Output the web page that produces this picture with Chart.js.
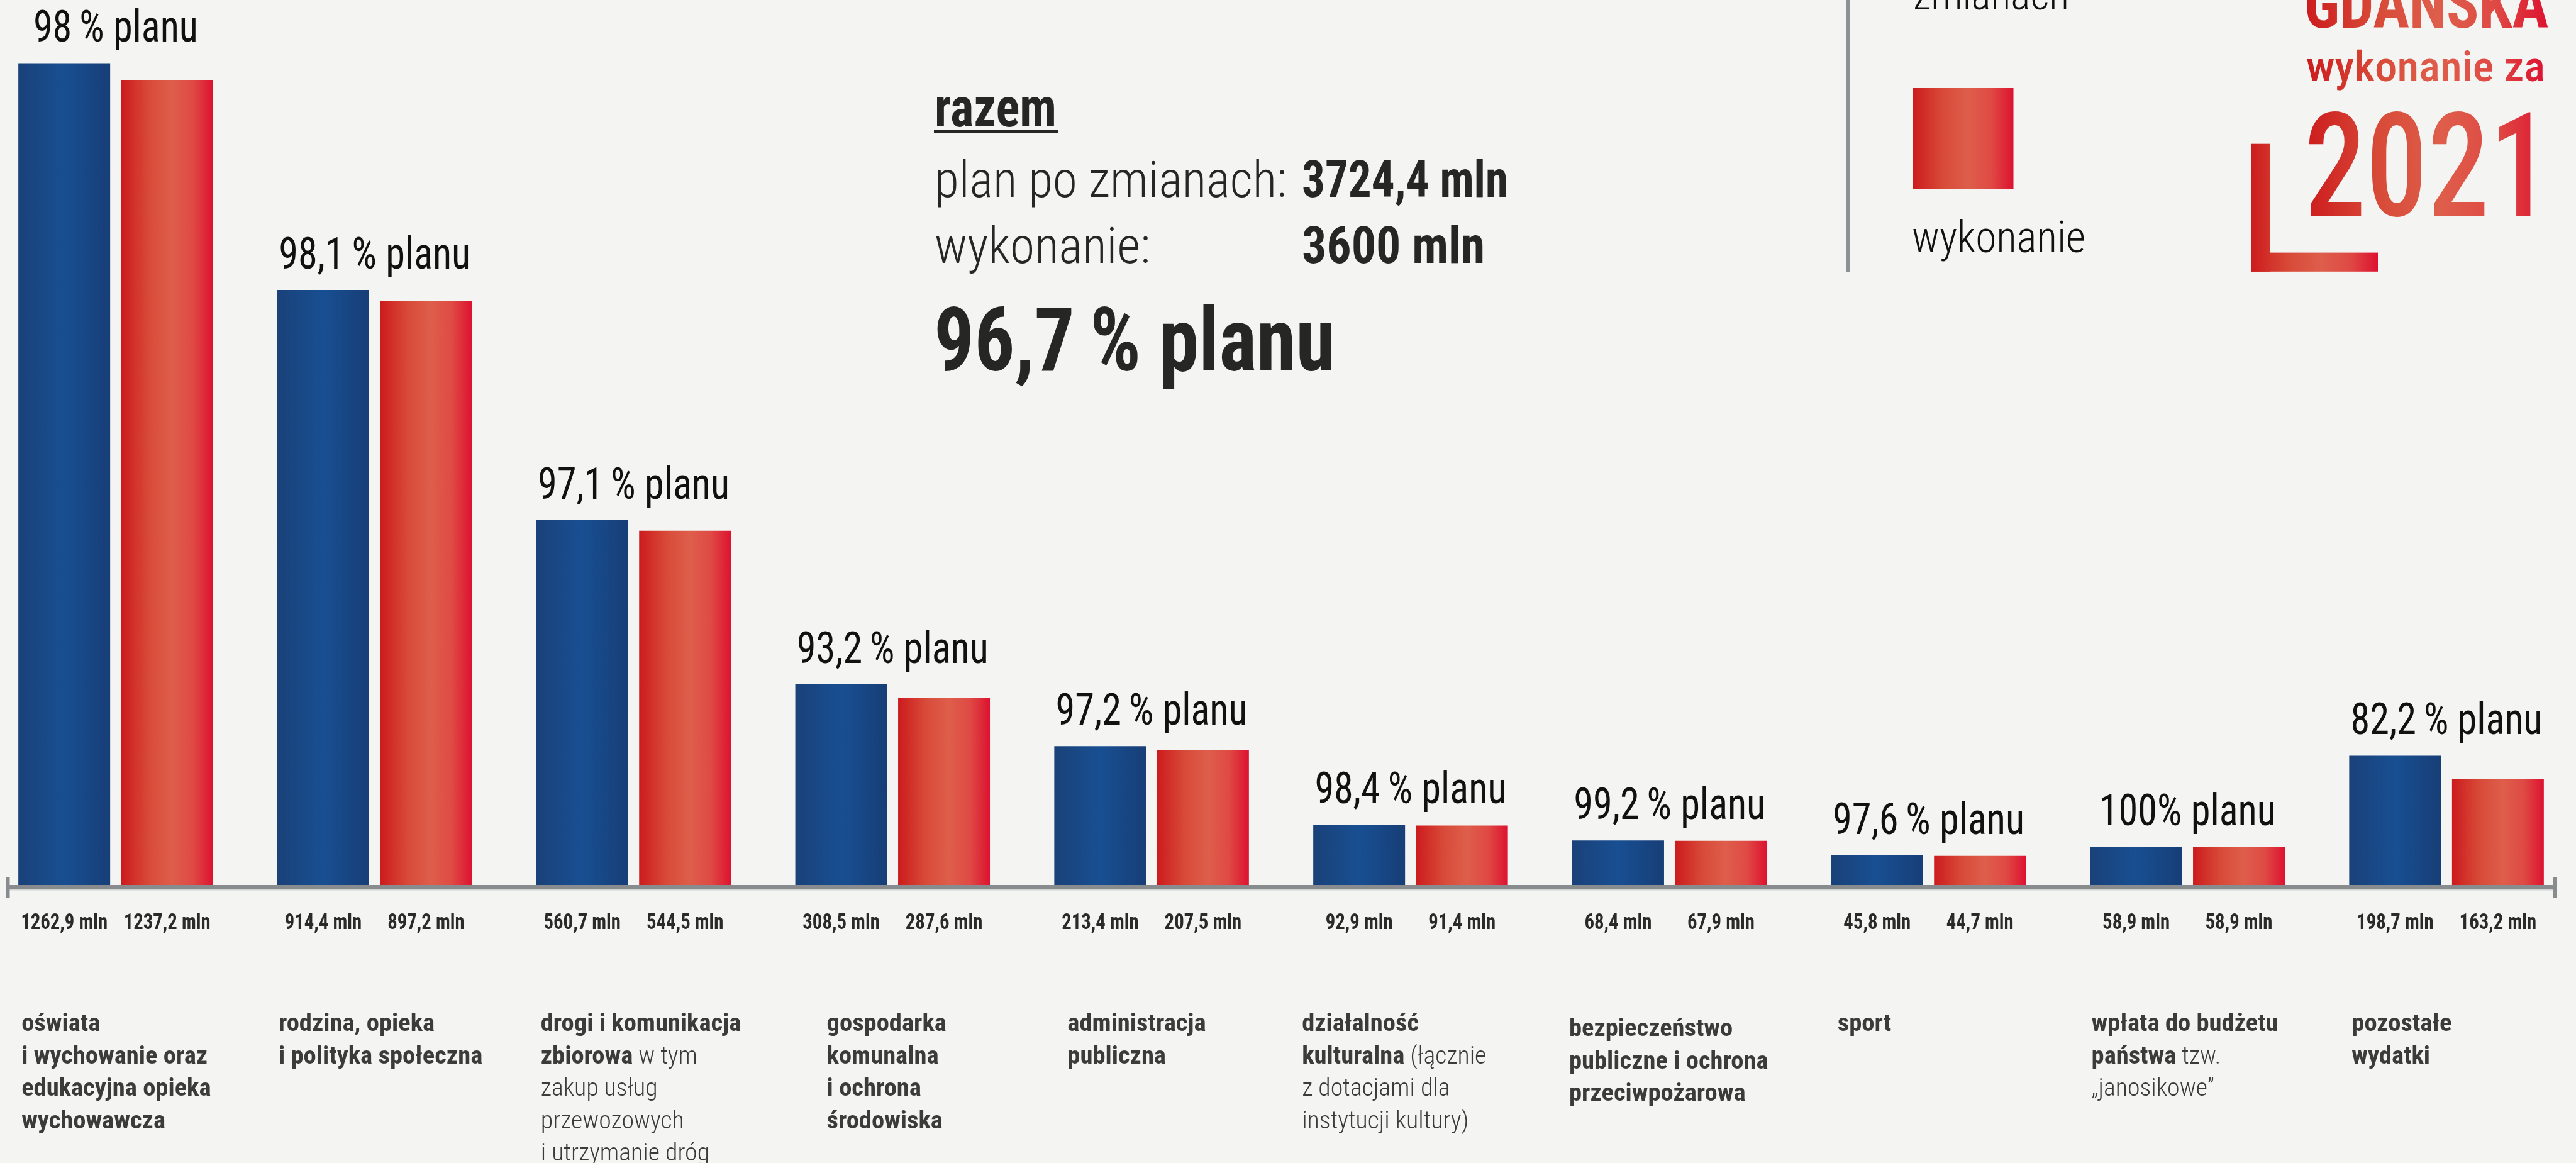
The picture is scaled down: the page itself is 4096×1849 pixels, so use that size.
<!DOCTYPE html>
<html><head><meta charset="utf-8">
<script src="https://cdn.jsdelivr.net/npm/chart.js@4.4.1/dist/chart.umd.min.js"></script>
<style>
html,body{margin:0;padding:0;width:4096px;height:1849px;overflow:hidden;background:#f4f4f2;}
#wrap{position:relative;width:4096px;height:1849px;overflow:hidden;}
#c{position:absolute;left:-22px;top:0;width:4118px;height:1849px;}
</style></head><body><div id="wrap"><canvas id="c" width="4118" height="1849"></canvas></div>
<script>
// ---------- DATA ----------
const categories = [
  "oświata i wychowanie oraz edukacyjna opieka wychowawcza",
  "rodzina, opieka i polityka społeczna",
  "drogi i komunikacja zbiorowa",
  "gospodarka komunalna i ochrona środowiska",
  "administracja publiczna",
  "działalność kulturalna",
  "bezpieczeństwo publiczne i ochrona przeciwpożarowa",
  "sport",
  "wpłata do budżetu państwa",
  "pozostałe wydatki"
];
const seriesNames = ["plan po zmianach", "wykonanie"];
const planValues = [1262.9, 914.4, 560.7, 308.5, 213.4, 92.9, 68.4, 45.8, 58.9, 198.7];
const execValues = [1237.2, 897.2, 544.5, 287.6, 207.5, 91.4, 67.9, 44.7, 58.9, 163.2];
const pctLabels = ["98\u2009% planu", "98,1\u2009% planu", "97,1\u2009% planu", "93,2\u2009% planu", "97,2\u2009% planu",
                   "98,4\u2009% planu", "99,2\u2009% planu", "97,6\u2009% planu", "100% planu", "82,2\u2009% planu"];
// label lines: [bold part, regular part]
const categoryLines = [
  [["oświata",""],["i wychowanie oraz",""],["edukacyjna opieka",""],["wychowawcza",""]],
  [["rodzina, opieka",""],["i polityka społeczna",""]],
  [["drogi i komunikacja",""],["zbiorowa"," w tym"],["","zakup usług"],["","przewozowych"],["","i utrzymanie dróg"]],
  [["gospodarka",""],["komunalna",""],["i ochrona",""],["środowiska",""]],
  [["administracja",""],["publiczna",""]],
  [["działalność",""],["kulturalna"," (łącznie"],["","z dotacjami dla"],["","instytucji kultury)"]],
  [["bezpieczeństwo",""],["publiczne i ochrona",""],["przeciwpożarowa",""]],
  [["sport",""]],
  [["wpłata do budżetu",""],["państwa"," tzw."],["","„janosikowe”"]],
  [["pozostałe",""],["wydatki",""]]
];
const totalHeading = "razem";
const totalPlanText = "3724,4 mln";
const totalExecText = "3600 mln";
const totalPctText = "96,7\u2009% planu";
const titleLines = ["GDAŃSKA", "wykonanie za", "2021"];

// ---------- LAYOUT / STYLE ----------
const OX = 22;                       // canvas is shifted left by this amount
const X = v => v + OX;
const FF = "'Roboto Condensed', Roboto, sans-serif";
const labelDx = [5, 2, 7, 50, 21, -18, -5, 10, 2, 4];
const labelDy = [0, 0, 0, 0, 0, 0, 8, 0, 0, 0];

function fmt(v){ return v.toFixed(1).replace('.', ',') + ' mln'; }

function measure(c, s, font){ c.save(); c.font = font; const w = c.measureText(s).width; c.restore(); return w; }
function drawText(c, s, x, y, font, sx, fill, align){
  c.save(); c.font = font; c.textBaseline = 'alphabetic'; c.textAlign = 'left';
  const w = c.measureText(s).width;
  let lx = 0;
  if (align === 'center') lx = -w/2; else if (align === 'right') lx = -w;
  c.translate(x, y); c.scale(sx, 1);
  c.fillStyle = (typeof fill === 'function') ? fill(c, lx, lx + w) : fill;
  c.fillText(s, lx, 0);
  c.restore();
  return w * sx;
}
function drawFit(c, s, x, y, font, target, fill){
  return drawText(c, s, x, y, font, target / measure(c, s, font), fill);
}
function redGrad(c, x0, x1){
  const g = c.createLinearGradient(x0, 0, x1, 0);
  g.addColorStop(0, '#cc1b1d'); g.addColorStop(0.3, '#d84a38'); g.addColorStop(0.55, '#de5e4b');
  g.addColorStop(0.78, '#df4a44'); g.addColorStop(1, '#dd1230');
  return g;
}
function blueGrad(c, x0, x1){
  const g = c.createLinearGradient(x0, 0, x1, 0);
  g.addColorStop(0, '#1a4179'); g.addColorStop(0.5, '#184f92'); g.addColorStop(1, '#173e77');
  return g;
}
const CAT_PCT = 0.794, BAR_PCT = 0.893;
function barFill(kind){
  return function(ctx){
    const chart = ctx.chart, xs = chart.scales && chart.scales.x;
    if (ctx.type !== 'data' || !xs || !chart.chartArea) return kind === 0 ? '#184f92' : '#de5e4b';
    const i = ctx.dataIndex;
    const cw = chart.chartArea.width / categories.length;
    const center = xs.getPixelForValue(i);
    const slot = cw * CAT_PCT / 2;
    const bc = center + (kind === 0 ? -slot/2 : slot/2);
    const bw = slot * BAR_PCT;
    return kind === 0 ? blueGrad(chart.ctx, bc - bw/2, bc + bw/2) : redGrad(chart.ctx, bc - bw/2, bc + bw/2);
  };
}

const deco = {
  id: 'deco',
  beforeDraw(chart){
    const c = chart.ctx; c.save(); c.fillStyle = '#f4f4f2'; c.fillRect(0, 0, chart.width, chart.height); c.restore();
  },
  beforeDatasetsDraw(chart){
    const c = chart.ctx, base = chart.chartArea.bottom;
    c.save();
    c.fillStyle = '#d2d3d3'; c.fillRect(X(12), base + 7, 4051, 1.5);
    c.fillStyle = '#898c8f';
    c.fillRect(X(12), base, 4051, 7);
    c.fillRect(X(9.5), base - 12, 6, 32);
    c.fillRect(X(4060), base - 12, 6, 32);
    c.restore();
  },
  afterDatasetsDraw(chart){
    const c = chart.ctx, xs = chart.scales.x;
    const m0 = chart.getDatasetMeta(0).data, m1 = chart.getDatasetMeta(1).data;
    const pctFont = `400 71px ${FF}`;
    const valFont = `700 35px ${FF}`;
    const catB = `700 38px ${FF}`;
    const catR = `300 38px ${FF}`;
    const sPct = 305 / measure(c, pctLabels[1], pctFont);
    const sVal = 138 / measure(c, fmt(planValues[0]), valFont);
    const sB = 296 / measure(c, "i wychowanie oraz", catB);
    const sR = 228 / measure(c, "przewozowych", catR);
    for (let i = 0; i < categories.length; i++){
      const b = m0[i], r = m1[i];
      const center = xs.getPixelForValue(i);
      drawText(c, pctLabels[i], center, b.y - 34, pctFont, sPct, '#111111', 'center');
      drawText(c, fmt(planValues[i]), b.x, 1477, valFont, sVal, '#2a2a2a', 'center');
      drawText(c, fmt(execValues[i]), r.x, 1477, valFont, sVal, '#2a2a2a', 'center');
      const lx = b.x - b.width/2 + labelDx[i];
      categoryLines[i].forEach((ln, k) => {
        const y = 1639 + labelDy[i] + k * 51.5;
        let x = lx;
        if (ln[0]) x += drawText(c, ln[0], x, y, catB, sB, '#3b3b39');
        if (ln[1]) drawText(c, ln[1], x, y, catR, sR, '#3b3b39');
      });
    }
  },
  afterDraw(chart){
    const c = chart.ctx;
    const dark = '#262624';
    // summary block
    drawFit(c, totalHeading, X(1486), 200.6, `700 88px ${FF}`, 194, dark);
    c.save(); c.fillStyle = dark; c.fillRect(X(1485), 206.6, 198, 4.5); c.restore();
    drawFit(c, "plan po zmianach:", X(1486), 312.6, `300 79px ${FF}`, 560, dark);
    drawFit(c, totalPlanText, X(2070), 312.6, `700 81px ${FF}`, 328, dark);
    drawFit(c, "wykonanie:", X(1486), 417.6, `300 79px ${FF}`, 343, dark);
    drawFit(c, totalExecText, X(2070), 417.6, `700 81px ${FF}`, 291, dark);
    drawFit(c, totalPctText, X(1485), 589, `700 141px ${FF}`, 638, dark);
    // legend
    c.save(); c.fillStyle = '#8e9194'; c.fillRect(X(2936), 0, 6, 433); c.restore();
    drawFit(c, "zmianach", X(3042), 14.8, `300 70px ${FF}`, 248, '#111111');
    c.save(); c.fillStyle = redGrad(c, X(3041), X(3201.5)); c.fillRect(X(3041), 140, 160.5, 160.5); c.restore();
    drawFit(c, seriesNames[1], X(3040), 400.5, `300 70px ${FF}`, 276, '#111111');
    // title
    drawFit(c, titleLines[0], X(3664), 44.3, `700 105px ${FF}`, 388, redGrad);
    drawFit(c, titleLines[1], X(3667), 128.6, `500 67px ${FF}`, 380, redGrad);
    drawFit(c, titleLines[2], X(3664), 342.8, `500 230px ${FF}`, 392, redGrad);
    c.save();
    c.fillStyle = redGrad(c, X(3579), X(3781));
    c.fillRect(X(3579), 228.7, 31, 203.1);
    c.fillRect(X(3579), 401.6, 202, 30.2);
    c.restore();
  }
};

new Chart(document.getElementById('c'), {
  type: 'bar',
  data: {
    labels: categories,
    datasets: [
      { label: seriesNames[0], data: planValues, backgroundColor: barFill(0), borderWidth: 0,
        categoryPercentage: CAT_PCT, barPercentage: BAR_PCT },
      { label: seriesNames[1], data: execValues, backgroundColor: barFill(1), borderWidth: 0,
        categoryPercentage: CAT_PCT, barPercentage: BAR_PCT }
    ]
  },
  options: {
    responsive: false, animation: false, devicePixelRatio: 1,
    layout: { padding: { left: 0, right: 0, top: 0, bottom: 442 } },
    plugins: { legend: { display: false }, tooltip: { enabled: false }, title: { display: false } },
    scales: {
      x: { display: false, offset: true, grid: { display: false } },
      y: { display: false, min: 0, max: 1360 }
    }
  },
  plugins: [deco]
});
</script></body></html>
